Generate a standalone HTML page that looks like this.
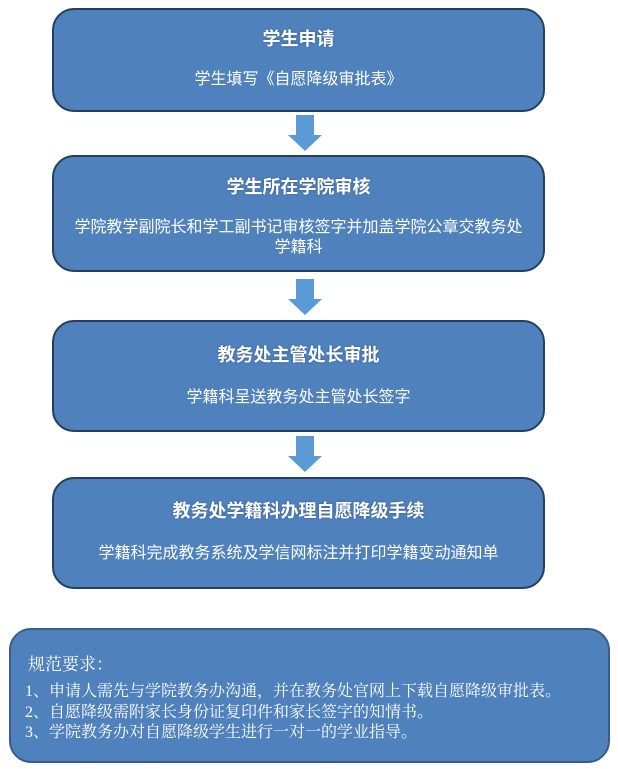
<!DOCTYPE html>
<html><head><meta charset="utf-8"><style>
body{margin:0;width:618px;height:769px;background:#fff;position:relative;overflow:hidden;font-family:"Liberation Sans","Noto Sans CJK SC",sans-serif;}
.b{position:absolute;background:#4f81bd;border:2.5px solid #243f60;border-radius:22px;box-sizing:border-box;color:#fff;}
.t{position:absolute;left:0;right:0;text-align:center;font-weight:bold;font-size:18px;line-height:22px;text-shadow:0 0 2px rgba(0,0,0,.3);}
.s{position:absolute;left:0;right:0;text-align:center;font-size:16px;line-height:20px;}
.a{position:absolute;left:288px;width:34px;}
.a div:first-child{margin-left:8px;width:18px;background:#5b9bd5;}
.a div:last-child{width:0;height:0;border-left:17px solid transparent;border-right:17px solid transparent;border-top:16px solid #5b9bd5;}
.r{position:absolute;font-family:"Liberation Serif","Noto Serif CJK SC",serif;font-size:16px;color:#fff;left:20px;}
</style></head><body>
<div class="b" style="left:52px;top:8px;width:493px;height:104px">
<div class="t" style="top:18px">学生申请</div>
<div class="s" style="top:60px">学生填写《自愿降级审批表》</div></div>
<div class="a" style="top:115px"><div style="height:20px"></div><div></div></div>
<div class="b" style="left:52px;top:155px;width:493px;height:117px">
<div class="t" style="top:19px">学生所在学院审核</div>
<div class="s" style="top:61px">学院教学副院长和学工副书记审核签字并加盖学院公章交教务处<br>学籍科</div></div>
<div class="a" style="top:279px"><div style="height:20px"></div><div></div></div>
<div class="b" style="left:52px;top:320px;width:493px;height:112px">
<div class="t" style="top:22px">教务处主管处长审批</div>
<div class="s" style="top:66px">学籍科呈送教务处主管处长签字</div></div>
<div class="a" style="top:436px"><div style="height:20px"></div><div></div></div>
<div class="b" style="left:52px;top:477px;width:493px;height:112px">
<div class="t" style="top:21px">教务处学籍科办理自愿降级手续</div>
<div class="s" style="top:65px">学籍科完成教务系统及学信网标注并打印学籍变动通知单</div></div>
<div class="b" style="left:9px;top:628px;width:601px;height:135px;border-color:#385d8a;border-width:2px">
<div class="r" style="top:20px;font-size:17px;left:17px">规范要求：</div>
<div class="r" style="top:52px;left:14px;line-height:20.5px">1、申请人需先与学院教务办沟通，并在教务处官网上下载自愿降级审批表。<br>2、自愿降级需附家长身份证复印件和家长签字的知情书。<br>3、学院教务办对自愿降级学生进行一对一的学业指导。</div></div>
</body></html>
